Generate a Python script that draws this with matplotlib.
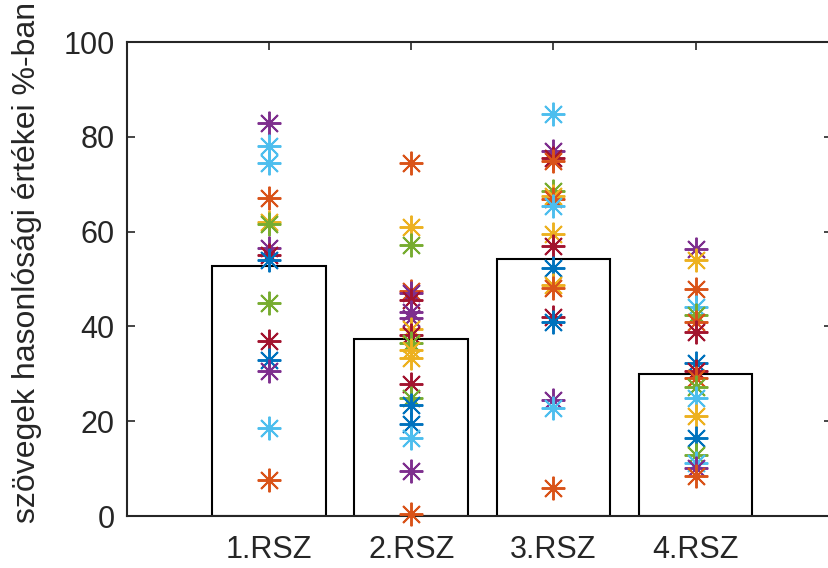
import matplotlib
matplotlib.use("Agg")
import matplotlib.pyplot as plt

plt.rcParams['font.family'] = ['Liberation Sans', 'DejaVu Sans']

categories = ["1.RSZ", "2.RSZ", "3.RSZ", "4.RSZ"]
bar_means = [52.7, 37.3, 54.2, 30.0]

C = {"b": "#0072BD", "o": "#D95319", "y": "#EDB120", "p": "#7E2F8E",
     "g": "#77AC30", "c": "#4DBEEE", "r": "#A2142F"}

vals1 = [83.0, 78.0, 74.5, 67.0, 62.0, 61.5, 56.5, 55.0, 54.0, 45.0, 37.0, 33.0, 30.5, 18.5, 7.5]
cols1 = ["p", "c", "c", "o", "y", "g", "p", "r", "b", "g", "r", "b", "p", "c", "o"]

vals2 = [74.5, 61.0, 57.2, 47.5, 47.0, 45.5, 43.0, 41.8, 39.5, 38.2, 36.5, 35.0, 33.3, 27.8, 25.0, 23.5, 19.5, 16.5, 9.5, 0.5]
cols2 = ["o", "y", "g", "o", "p", "r", "p", "p", "y", "r", "g", "y", "y", "r", "g", "b", "b", "c", "p", "o"]

vals3 = [84.8, 77.0, 75.5, 75.0, 68.5, 67.5, 66.8, 65.5, 59.5, 57.0, 52.3, 48.8, 48.0, 42.0, 41.0, 24.5, 22.8, 6.0]
cols3 = ["c", "p", "r", "o", "g", "y", "o", "c", "y", "r", "b", "y", "o", "r", "b", "p", "c", "o"]

vals4 = [56.3, 54.0, 47.8, 44.0, 42.5, 41.0, 38.8, 32.3, 30.5, 29.2, 27.2, 24.8, 21.0, 16.5, 12.8, 11.2, 10.2, 8.5]
cols4 = ["p", "y", "o", "c", "g", "o", "r", "b", "r", "o", "g", "c", "y", "b", "g", "c", "p", "o"]

yticks = [0, 20, 40, 60, 80, 100]
ylabel = "szövegek hasonlósági értékei %-ban"

W, H = 829, 568
fig = plt.figure(figsize=(W / 100, H / 100), dpi=100)
left, right, top, bottom = 127, 832, 42, 516
ax = fig.add_axes([left / W, (H - bottom) / H, (right - left) / W, (bottom - top) / H])

xpos = list(range(1, len(categories) + 1))
ax.bar(xpos, bar_means, width=0.8, facecolor="white", edgecolor="black", linewidth=1.5, zorder=2)

for x, vals, cols in zip(xpos, [vals1, vals2, vals3, vals4], [cols1, cols2, cols3, cols4]):
    for v, c in zip(vals, cols):
        ax.plot([x], [v], linestyle="none", marker=(8, 2, 0), markersize=17,
                markeredgewidth=1.4, color=C[c], zorder=3, clip_on=False)

ax.set_xlim(0, 4.96)
ax.set_ylim(0, 100)
ax.set_xticks(xpos)
ax.set_xticklabels(categories)
ax.set_yticks(yticks)
ax.tick_params(direction="in", top=True, right=True, labelsize=22, length=6, width=1.2,
               colors="#262626")
ax.tick_params(axis="y", pad=9)
ax.tick_params(axis="x", pad=14)
for s in ax.spines.values():
    s.set_linewidth(1.5)
    s.set_color("#262626")
ax.set_ylabel(ylabel, fontsize=23, color="#262626")
ax.yaxis.set_label_coords(-0.12, 0.535)

fig.savefig("out.png", dpi=100)
